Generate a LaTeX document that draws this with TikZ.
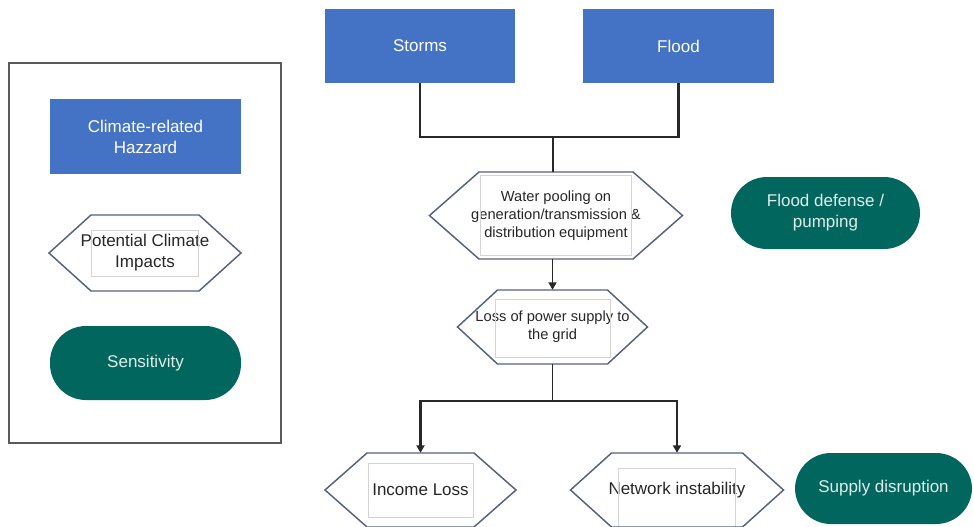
\documentclass[tikz,border=0pt]{standalone}
\usepackage{fontspec}
\setmainfont{Liberation Sans}
\usetikzlibrary{arrows.meta,calc}

\definecolor{hazblue}{RGB}{68,114,196}
\definecolor{senteal}{RGB}{0,102,94}
\definecolor{sentext}{RGB}{226,236,234}
\definecolor{hexedge}{RGB}{84,98,128}
\definecolor{wirecol}{RGB}{40,40,40}
\definecolor{panelgray}{RGB}{212,212,212}
\definecolor{framegray}{RGB}{90,90,90}

\newcommand\bigtxt{\fontsize{12.75}{15.75}\selectfont}
\newcommand\smalltxt{\fontsize{11}{13.4}\selectfont}

% hexagon outline around a node centre:
% #1 node, #2 half flat width, #3 half height, #4 point inset,
% #5 text panel half width, #6 panel top offset, #7 panel bottom offset
\newcommand\hexframe[7]{%
  \draw[panel] ($(#1.center)+(-#5,-#6)$) rectangle ($(#1.center)+(#5,#7)$);
  \draw[hexline] ($(#1.center)+(-#2,-#3)$) -- ($(#1.center)+(#2,-#3)$)
    -- ($(#1.center)+(#2+#4,0)$) -- ($(#1.center)+(#2,#3)$)
    -- ($(#1.center)+(-#2,#3)$) -- ($(#1.center)+(-#2-#4,0)$) -- cycle;}

\begin{document}
\begin{tikzpicture}[x=0.75pt,y=-0.75pt,
  pxsize/.style 2 args={minimum width=#1*0.75pt, minimum height=#2*0.75pt, inner sep=0pt},
  hazard/.style={fill=hazblue, text=white, font=\bigtxt, align=center},
  sensitivity/.style={fill=senteal, text=sentext, font=\bigtxt, align=center, rounded corners=27pt},
  impact/.style={text=black!85, align=center, inner sep=0pt},
  hexline/.style={draw=hexedge, line width=1.1pt, line join=miter},
  panel/.style={draw=panelgray, line width=0.5pt},
  wire/.style={draw=wirecol, line width=1.6pt},
  stem/.style={draw=wirecol, line width=1.1pt},
  tip/.style={-{Triangle[width=6pt,length=5.5pt]}},
  legendframe/.style={draw=framegray, line width=1.1pt}
]
\useasboundingbox (0,0) rectangle (974,526);

% legend
\draw[legendframe] (9,63) rectangle (281,443);
\node[hazard, pxsize={191}{75}] (keyhaz) at (145.5,136.5) {Climate-related\\Hazzard};
\node[impact, font=\bigtxt, minimum height=76*0.75pt] (keyimp) at (145,253) {Potential Climate\\Impacts};
\hexframe{keyimp}{54}{38}{42}{53.5}{23}{23}
\node[sensitivity, pxsize={191}{74}] (keysens) at (145.5,363) {Sensitivity};

% hazards
\node[hazard, pxsize={190}{74}] (storms) at (420,46) {Storms};
\node[hazard, pxsize={191}{74}] (flood) at (678.5,46) {Flood};

% impact chain
\node[impact, font=\smalltxt, minimum height=87*0.75pt] (water) at (556,215.5)
  {Water pooling on\\generation/transmission \&\\distribution equipment};
\hexframe{water}{77}{43.5}{49.5}{75.5}{40.5}{39.5}

\node[impact, font=\smalltxt, minimum height=74*0.75pt] (loss) at (552.5,327)
  {Loss of power supply to\\the grid};
\hexframe{loss}{55}{37}{40}{57.5}{28}{30}

\node[impact, font=\bigtxt, minimum height=74*0.75pt] (income) at (420.5,490) {Income Loss};
\hexframe{income}{53.5}{37}{42}{52.5}{27}{27}

\node[impact, font=\bigtxt, minimum height=74*0.75pt] (network) at (677,490) {Network instability};
\hexframe{network}{65.5}{37}{41}{58.5}{22}{40}

% sensitivities
\node[sensitivity, pxsize={189}{72}] (defense) at (825.5,213) {Flood defense /\\pumping};
\node[sensitivity, pxsize={177}{71}] (supply) at (883.5,488.5) {Supply disruption};

% connectors
\coordinate (join) at (553,137);
\coordinate (split) at (553,401);
\draw[wire] (storms.south) |- (join) -| (flood.south);
\draw[stem] (join) -- (join |- water.north);
\draw[stem, tip] (loss.north |- water.south) -- (loss.north);
\draw[stem] (loss.south) -- (loss.south |- split);
\draw[wire, tip] (split) -| (income.north);
\draw[wire, tip] (split) -| (network.north);
\end{tikzpicture}
\end{document}
